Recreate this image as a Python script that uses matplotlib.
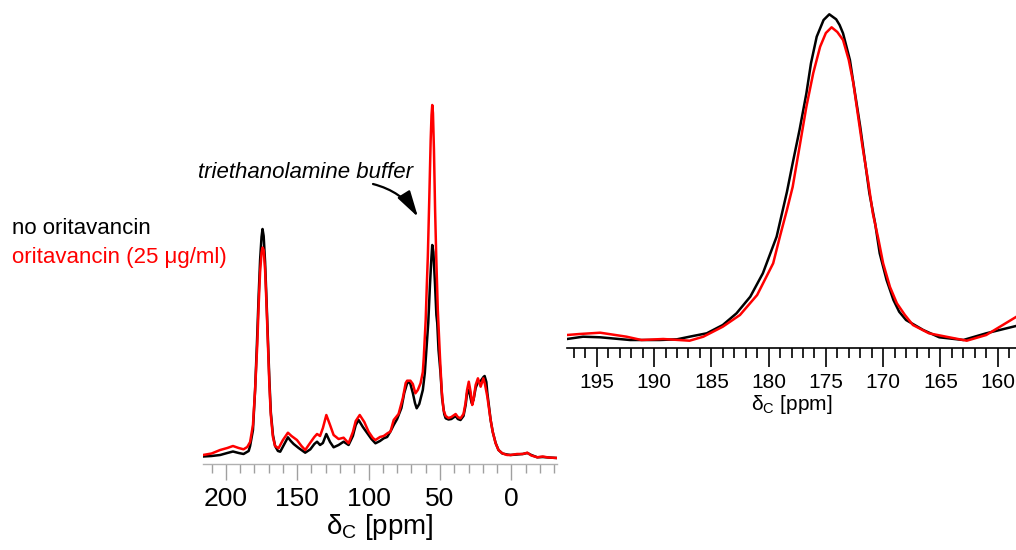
import matplotlib
matplotlib.use("Agg")
import matplotlib.pyplot as plt
from matplotlib.ticker import MultipleLocator

plt.rcParams['font.family'] = ['Liberation Sans', 'DejaVu Sans']
plt.rcParams['mathtext.fontset'] = 'custom'
plt.rcParams['mathtext.rm'] = 'Liberation Sans'
plt.rcParams['mathtext.it'] = 'Liberation Sans:italic'

# full spectrum, intensity in arbitrary units (height above axis)
ppm_black = [216, 210, 204, 199, 195, 191, 187.6, 184, 183, 181, 179.5, 178.2, 177, 176, 175, 174.3,
             173.5, 172.5, 171.5, 170.5, 169.5, 168.5, 167, 165.5, 163.5, 161.9, 159, 156.5, 154.5,
             152.5, 149, 144.4, 140.8, 138, 136.1, 134, 132, 129.6, 127, 124.5, 121, 117.5, 114, 111,
             109, 107, 104, 101, 98, 95.2, 92, 89.4, 87, 84.5, 82.4, 80, 77, 75, 73, 71.9, 70.7, 69,
             67.5, 66.3, 64.5, 62, 60.6, 59.5, 58.2, 57, 56, 55.4, 54.6, 53.5, 52.5, 51.9, 51, 49.6,
             48.5, 47, 46, 44, 42, 40, 39, 37.5, 35.6, 33.5, 32, 31, 30, 29, 27.8, 26.5, 25, 23.4,
             21.5, 19.5, 18.7, 17.5, 16.8, 15.5, 14.5, 13, 11, 9, 6.3, 3, 0.5, -4, -8, -11.2, -14,
             -18.2, -22, -26, -32]
int_black = [7.5, 8, 9, 11, 12.5, 11, 10, 13, 18, 34, 74, 121, 169, 204, 227, 235,
             228, 202, 164, 124, 84, 52, 29, 18, 13, 12.3, 20, 26.7, 23,
             20, 16, 11.3, 14.7, 20, 22.3, 19, 21, 30, 22, 16.7, 19, 22.3, 19, 28,
             39, 44, 37, 31, 25, 20.7, 23, 25.7, 27, 33, 39, 45, 56, 71, 80.7, 82.3, 80, 71,
             61, 55.7, 60, 74, 91, 114, 141, 179, 206, 219, 212, 181, 149, 141, 114, 91,
             66, 50, 45.7, 44.5, 45, 47, 48, 45, 44, 48, 59, 71, 74, 69, 61, 64, 76, 82,
             83, 87, 88, 82, 71, 56, 44, 32, 21, 14, 10.5, 9.5, 9, 9.5, 10, 11, 9,
             6.7, 7, 6.5, 6]

ppm_red = [216, 210, 204, 199, 195, 191, 187.6, 185, 183, 181, 179.5, 178, 177, 176, 175, 174.3,
           173.5, 172.5, 171.5, 170.5, 169.5, 168.5, 167, 165.5, 163.1, 160, 156.5, 154, 150.2, 147,
           144.4, 141, 138, 136.1, 134, 132, 129.6, 127, 124.5, 121, 117.5, 114, 111, 109, 106.2,
           103, 100, 97, 95.2, 92, 89.4, 86.5, 84.7, 82.4, 79, 76, 74, 73, 70.7, 69, 67.2, 65.5,
           63.6, 62, 61.3, 60, 59.2, 58.5, 57.5, 56.5, 55.9, 55.4, 54.9, 54.2, 53.4, 52.6, 51.5, 50,
           48.8, 47.5, 46, 44, 42, 40, 39, 37.5, 35.6, 33.5, 32.1, 31, 29.8, 28.5, 27.4, 26.5, 25,
           23.4, 21.5, 19.6, 18.5, 16.8, 15.5, 14.5, 13, 11, 9, 6.3, 3, 0.5, -4, -8, -11.2, -14,
           -18.2, -22, -26, -32]
int_red = [9, 10.5, 14, 16, 18, 16, 14.7, 17, 22, 39, 74, 119, 159, 192, 211, 216.5,
           214, 194, 159, 119, 79, 49, 27, 18, 15.7, 24, 31.3, 28, 24, 18,
           14, 21, 27, 30, 28, 36, 49, 39, 29, 25, 26.3, 20.7, 32, 43, 49,
           42, 32.3, 26, 24, 27, 28, 31, 32.3, 44, 50, 66, 81, 83.3, 83.3, 80, 70.7, 74,
           80.7, 92, 107.3, 144, 179, 207.3, 264, 324, 349, 359, 351, 314, 254, 207.3, 154, 107.3,
           74, 54, 48, 46, 47, 49, 50, 47, 45.7, 50, 60.7, 74, 82.3, 72, 59, 64, 79,
           85.7, 77.3, 85.7, 80, 67.3, 54, 44, 32, 20.7, 14, 10.7, 9, 9, 10, 10, 11.3, 8.5,
           6.7, 7.5, 6.5, 6]

# carbonyl region expansion
ppm_zoom_black = [197.6, 196.2, 194.7, 192.1, 189.5, 188, 186.6, 185.4, 184, 182.8, 181.6, 180.5,
                  179.3, 178.4, 177.9, 177.3, 176.7, 176.3, 175.8, 175.2, 174.7, 174.1, 173.8,
                  173.5, 172.9, 172.5, 172, 171.6, 171.2, 170.7, 170.3, 169.7, 169.1, 168.6,
                  168, 166.5, 165.1, 163, 161, 158.4]
int_zoom_black = [9, 11.3, 10.7, 8, 8, 8.7, 12, 14.7, 23, 34.7, 51.3, 74.7,
                  111.3, 156, 184.7, 218, 254.7, 284.7, 311.3, 328, 333.7, 328.7, 323,
                  314.7, 288, 258, 221.3, 188, 154.7, 124.7, 94.7, 68, 48, 36.3,
                  28, 18, 10.7, 8, 14.7, 22]
ppm_zoom_red = [197.6, 196.5, 194.7, 192.4, 191.1, 189.2, 186.9, 185.7, 184, 182.5, 181, 179.6,
                179.0, 178.4, 177.9, 177.3, 176.7, 176.1, 175.5, 175.0, 174.5, 174.0, 173.5,
                173.0, 172.6, 172.2, 171.8, 171.3, 170.9, 170.4, 170, 169.4, 168.8, 168.1,
                167.4, 166, 164.5, 162.7, 161, 158.4]
int_zoom_red = [13, 14, 15.3, 11.3, 8, 9, 7.3, 11.3, 21.3, 33, 53, 84.7,
                112, 138, 161, 201, 241.3, 275, 301.3, 315, 320.7, 316, 308,
                288, 264.7, 233, 201.3, 166, 134.7, 108, 84.7, 61, 44.7, 33,
                23, 14.7, 11.3, 7.3, 13, 31]

fig = plt.figure(figsize=(10.16, 5.5), dpi=100)

# left panel: full spectrum
ax1 = fig.add_axes([203 / 1016, 86 / 550, 354 / 1016, 364 / 550])
ax1.plot(ppm_black, int_black, color='black', lw=1.8)
ax1.plot(ppm_red, int_red, color='#ff0000', lw=1.8)
ax1.set_xlim(216, -32)
ax1.set_ylim(0, 364)
for s in ['top', 'left', 'right']:
    ax1.spines[s].set_visible(False)
ax1.spines['bottom'].set_color('#b0b0b0')
ax1.spines['bottom'].set_linewidth(1.0)
ax1.set_yticks([])
ax1.xaxis.set_major_locator(MultipleLocator(50))
ax1.xaxis.set_minor_locator(MultipleLocator(10))
ax1.tick_params(axis='x', which='major', length=11.5, width=1.0, color='#a0a0a0',
                labelsize=19, pad=5)
ax1.tick_params(axis='x', which='minor', length=6.5, width=1.0, color='#a0a0a0')
ax1.set_xlabel(r'δ$_{\rm C}$ [ppm]', fontsize=20, labelpad=1)

fig.text(305 / 1016, 1 - 172 / 550, 'triethanolamine buffer', fontsize=16, style='italic',
         ha='center', va='center')
ax1.annotate('', xy=(418 / 1016, 1 - 217 / 550), xycoords='figure fraction',
             xytext=(373 / 1016, 1 - 184 / 550), textcoords='figure fraction',
             arrowprops=dict(arrowstyle='-|>,head_length=0.8,head_width=0.22', color='black',
                             lw=1.6, shrinkA=0, shrinkB=0, mutation_scale=20,
                             connectionstyle='arc3,rad=-0.2'))

fig.text(12 / 1016, 1 - 229 / 550, 'no oritavancin', fontsize=16, color='black',
         ha='left', va='center')
fig.text(12 / 1016, 1 - 258 / 550, 'oritavancin (25 μg/ml)', fontsize=16, color='#ff0000',
         ha='left', va='center')

# right panel: carbonyl region
ax2 = fig.add_axes([567 / 1016, 202 / 550, 449 / 1016, 348 / 550])
ax2.plot(ppm_zoom_black, int_zoom_black, color='black', lw=1.8)
ax2.plot(ppm_zoom_red, int_zoom_red, color='#ff0000', lw=1.8)
ax2.set_xlim(197.6, 158.4)
ax2.set_ylim(0, 348)
for s in ['top', 'left', 'right']:
    ax2.spines[s].set_visible(False)
ax2.spines['bottom'].set_linewidth(1.2)
ax2.set_yticks([])
ax2.xaxis.set_major_locator(MultipleLocator(5))
ax2.xaxis.set_minor_locator(MultipleLocator(1))
ax2.tick_params(axis='x', which='major', length=14, width=1.2, labelsize=15, pad=4)
ax2.tick_params(axis='x', which='minor', length=7, width=1.2)
ax2.set_xlabel(r'δ$_{\rm C}$ [ppm]', fontsize=15, labelpad=1)

fig.savefig('out.png', dpi=100)
